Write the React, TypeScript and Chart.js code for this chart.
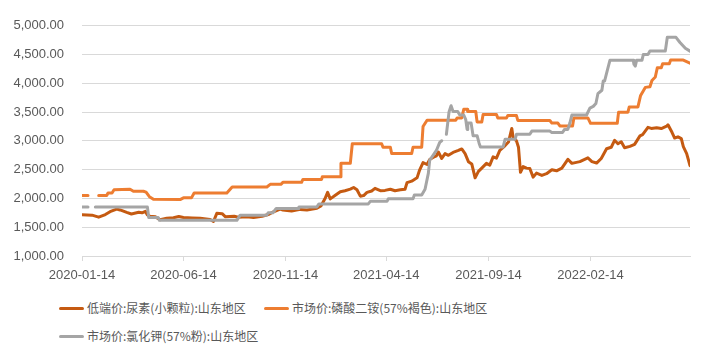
import React, { useEffect, useRef } from 'react';
import { Chart, registerables } from 'chart.js';

Chart.register(...registerables);

const START_DATE = '2020-01-14';
const END_DATE = '2022-07-13';
const TICK_LABELS = ['2020-01-14', '2020-06-14', '2020-11-14', '2021-04-14', '2021-09-14', '2022-02-14'];
const Y_MIN = 1000;
const Y_MAX = 5000;
const Y_STEP = 500;

const SERIES_NAMES = [
  '低端价:尿素(小颗粒):山东地区',
  '市场价:磷酸二铵(57%褐色):山东地区',
  '市场价:氯化钾(57%粉):山东地区',
];
const SERIES_COLORS = ['#C55A11', '#ED7D31', '#A5A5A5'];

const UREA_DATES = [
  '2020-01-14', '2020-01-29', '2020-02-08', '2020-02-18', '2020-02-25', '2020-03-06', '2020-03-11', '2020-03-21',
  '2020-03-28', '2020-04-08', '2020-04-13', '2020-04-18', '2020-04-21', '2020-04-25', '2020-05-03', '2020-05-10',
  '2020-05-20', '2020-05-30', '2020-06-07', '2020-06-14', '2020-06-27', '2020-07-09', '2020-07-24', '2020-07-29',
  '2020-08-03', '2020-08-11', '2020-08-16', '2020-08-29', '2020-09-04', '2020-09-17', '2020-09-27', '2020-10-10',
  '2020-10-19', '2020-10-27', '2020-11-06', '2020-11-10', '2020-11-23', '2020-12-06', '2020-12-16', '2020-12-31',
  '2021-01-06', '2021-01-12', '2021-01-16', '2021-01-20', '2021-01-27', '2021-02-04', '2021-02-11', '2021-02-19',
  '2021-02-24', '2021-03-01', '2021-03-06', '2021-03-11', '2021-03-16', '2021-03-23', '2021-03-28', '2021-04-05',
  '2021-04-12', '2021-04-20', '2021-04-27', '2021-05-05', '2021-05-12', '2021-05-15', '2021-05-22', '2021-05-30',
  '2021-06-03', '2021-06-08', '2021-06-14', '2021-06-18', '2021-06-23', '2021-06-28', '2021-07-01', '2021-07-06',
  '2021-07-11', '2021-07-16', '2021-07-23', '2021-07-31', '2021-08-05', '2021-08-10', '2021-08-15', '2021-08-20',
  '2021-08-25', '2021-08-30', '2021-09-04', '2021-09-11', '2021-09-16', '2021-09-21', '2021-09-26', '2021-10-01',
  '2021-10-09', '2021-10-14', '2021-10-19', '2021-10-21', '2021-10-26', '2021-10-29', '2021-11-01', '2021-11-05',
  '2021-11-10', '2021-11-15', '2021-11-20', '2021-11-25', '2021-12-03', '2021-12-10', '2021-12-18', '2021-12-25',
  '2022-01-02', '2022-01-11', '2022-01-17', '2022-01-29', '2022-02-10', '2022-02-16', '2022-02-23', '2022-03-02',
  '2022-03-10', '2022-03-17', '2022-03-22', '2022-03-27', '2022-04-01', '2022-04-06', '2022-04-14', '2022-04-21',
  '2022-04-29', '2022-05-03', '2022-05-11', '2022-05-16', '2022-05-24', '2022-05-31', '2022-06-08', '2022-06-10',
  '2022-06-16', '2022-06-20', '2022-06-25', '2022-06-30', '2022-07-03', '2022-07-08', '2022-07-13',
];
const UREA_VALUES = [
  1715, 1710, 1675, 1720, 1770, 1815, 1800, 1757,
  1730, 1760, 1750, 1775, 1713, 1690, 1680, 1629,
  1656, 1665, 1685, 1668, 1660, 1655, 1635, 1600,
  1741, 1735, 1680, 1690, 1672, 1680, 1670, 1690,
  1720, 1769, 1815, 1800, 1780, 1810, 1800, 1830,
  1870, 1993, 2105, 1993, 2050, 2117, 2134, 2161,
  2190, 2150, 2040, 2050, 2105, 2130, 2175, 2134,
  2140, 2160, 2134, 2150, 2160, 2274, 2300, 2358,
  2498, 2622, 2590, 2678, 2712, 2740, 2807, 2695,
  2779, 2750, 2800, 2834, 2860, 2779, 2639, 2600,
  2358, 2470, 2527, 2610, 2580, 2723, 2700, 2834,
  2919, 2980, 3217, 3059, 3000, 2890, 2454, 2555,
  2527, 2520, 2370, 2440, 2400, 2430, 2498, 2480,
  2527, 2680, 2610, 2640, 2705, 2640, 2615, 2695,
  2863, 2890, 3010, 2950, 2985, 2880, 2905, 2940,
  3087, 3110, 3235, 3217, 3230, 3215, 3255, 3280,
  3150, 3050, 3070, 3040, 2900, 2780, 2570,
];

const DAP_DATES = [
  '2020-01-14', '2020-01-23', '2020-01-29', '2020-02-08', '2020-02-20', '2020-02-22', '2020-02-28', '2020-03-02',
  '2020-03-26', '2020-03-31', '2020-04-15', '2020-04-19', '2020-04-24', '2020-04-30', '2020-06-09', '2020-06-14',
  '2020-06-26', '2020-06-30', '2020-08-18', '2020-08-20', '2020-08-26', '2020-10-17', '2020-10-22', '2020-11-07',
  '2020-11-10', '2020-12-08', '2020-12-10', '2021-01-07', '2021-01-08', '2021-02-04', '2021-02-05', '2021-02-19',
  '2021-02-22', '2021-04-07', '2021-04-09', '2021-04-20', '2021-04-22', '2021-05-22', '2021-05-24', '2021-06-06',
  '2021-06-08', '2021-06-14', '2021-07-27', '2021-07-29', '2021-08-05', '2021-08-08', '2021-08-13', '2021-08-14',
  '2021-08-26', '2021-08-28', '2021-09-04', '2021-09-06', '2021-09-26', '2021-09-28', '2021-10-11', '2021-10-13',
  '2021-10-26', '2021-10-28', '2021-12-15', '2021-12-18', '2021-12-27', '2021-12-30', '2022-01-18', '2022-01-20',
  '2022-02-10', '2022-02-14', '2022-03-26', '2022-03-28', '2022-04-11', '2022-04-13', '2022-04-26', '2022-04-30',
  '2022-05-07', '2022-05-14', '2022-05-17', '2022-05-22', '2022-05-25', '2022-05-31', '2022-06-02', '2022-06-12',
  '2022-06-14', '2022-07-03', '2022-07-13',
];
const DAP_VALUES = [
  2050, 2050, null, 2050, 2050, 2094, 2094, 2150,
  2160, 2125, 2125, 2110, 2030, 1985, 1980, 2010,
  2010, 2094, 2094, 2120, 2200, 2200, 2245, 2245,
  2280, 2280, 2330, 2330, 2375, 2375, 2610, 2610,
  2950, 2950, 2890, 2890, 2780, 2780, 2890, 2890,
  3250, 3360, 3360, 3400, 3400, 3550, 3550, 3510,
  3510, 3330, 3330, 3460, 3460, 3400, 3400, 3440,
  3440, 3355, 3355, 3310, 3310, 3260, 3260, 3400,
  3400, 3305, 3305, 3500, 3500, 3590, 3590, 3790,
  3930, 3940, 4050, 4110, 4270, 4270, 4340, 4340,
  4405, 4405, 4350,
];

const KCL_DATES = [
  '2020-01-14', '2020-01-23', '2020-01-29', '2020-02-03', '2020-04-21', '2020-04-23', '2020-05-07', '2020-05-09',
  '2020-09-02', '2020-09-07', '2020-10-17', '2020-10-19', '2020-10-26', '2020-10-31', '2020-12-03', '2020-12-04',
  '2020-12-31', '2021-01-03', '2021-03-18', '2021-03-21', '2021-04-15', '2021-04-17', '2021-05-24', '2021-05-26',
  '2021-06-06', '2021-06-11', '2021-06-16', '2021-06-18', '2021-06-23', '2021-06-28', '2021-07-03', '2021-07-06',
  '2021-07-09', '2021-07-13', '2021-07-17', '2021-07-20', '2021-07-23', '2021-07-30', '2021-08-02', '2021-08-08',
  '2021-08-11', '2021-08-13', '2021-08-14', '2021-08-19', '2021-08-22', '2021-08-28', '2021-08-31', '2021-09-02',
  '2021-10-06', '2021-10-09', '2021-10-24', '2021-10-26', '2021-11-15', '2021-11-18', '2021-12-15', '2021-12-18',
  '2022-01-03', '2022-01-06', '2022-01-11', '2022-01-14', '2022-01-17', '2022-02-08', '2022-02-13', '2022-02-18',
  '2022-02-22', '2022-02-25', '2022-03-03', '2022-03-05', '2022-03-07', '2022-03-11', '2022-03-15', '2022-04-19',
  '2022-04-20', '2022-04-22', '2022-04-24', '2022-05-02', '2022-05-04', '2022-05-11', '2022-05-14', '2022-06-06',
  '2022-06-09', '2022-06-22', '2022-06-28', '2022-07-06', '2022-07-13',
];
const KCL_VALUES = [
  1850, 1850, null, 1850, 1850, 1670, 1670, 1620,
  1620, 1710, 1710, 1752, 1752, 1825, 1825, 1853,
  1853, 1905, 1905, 1950, 1950, 1995, 1995, 2060,
  2060, 2160, 2440, 2667, 2750, 2834, 2975, 3003,
  null, 3115, 3508, 3610, 3510, 3510, 3450, 3450,
  3370, 3200, 3310, 3310, 3090, 3090, 2960, 2895,
  2895, 3030, 3030, 3115, 3115, 3170, 3170, 3145,
  3145, 3200, 3200, 3310, 3450, 3450, 3570, 3600,
  3650, 3820, 3880, 4040, 4040, 4220, 4400, 4400,
  4330, 4300, 4400, 4400, 4500, 4500, 4560, 4560,
  4800, 4800, 4710, 4610, 4560,
];

const dayOf = (d: string) => Math.round((Date.parse(d) - Date.parse(START_DATE)) / 86400000);
const toPoints = (dates: string[], values: (number | null)[]) =>
  dates.map((d, i) => ({ x: dayOf(d), y: values[i] }));

const TEXT_COLOR = '#595959';
const GRID_COLOR = '#D9D9D9';
const AXIS_FONT = { family: '"Liberation Sans", Arial, sans-serif', size: 13 };

export default function App() {
  const canvasRef = useRef<HTMLCanvasElement | null>(null);

  useEffect(() => {
    const canvas = canvasRef.current;
    if (!canvas) return;
    const chart = new Chart(canvas, {
      type: 'line',
      data: {
        datasets: [
          {
            label: SERIES_NAMES[0],
            data: toPoints(UREA_DATES, UREA_VALUES),
            borderColor: SERIES_COLORS[0],
            backgroundColor: SERIES_COLORS[0],
            borderWidth: 3,
            order: 2,
          },
          {
            label: SERIES_NAMES[1],
            data: toPoints(DAP_DATES, DAP_VALUES),
            borderColor: SERIES_COLORS[1],
            backgroundColor: SERIES_COLORS[1],
            borderWidth: 3,
            order: 1,
          },
          {
            label: SERIES_NAMES[2],
            data: toPoints(KCL_DATES, KCL_VALUES),
            borderColor: SERIES_COLORS[2],
            backgroundColor: SERIES_COLORS[2],
            borderWidth: 3,
            order: 0,
          },
        ],
      },
      options: {
        animation: false,
        responsive: false,
        maintainAspectRatio: false,
        spanGaps: false,
        layout: { padding: { top: 18, right: 19, left: 0, bottom: 0 } },
        plugins: { legend: { display: false }, tooltip: { enabled: false } },
        elements: {
          point: { radius: 0, hoverRadius: 0 },
          line: { tension: 0, borderCapStyle: 'round', borderJoinStyle: 'round' },
        },
        scales: {
          x: {
            type: 'linear',
            min: 0,
            max: dayOf(END_DATE),
            afterBuildTicks: (scale: any) => {
              scale.ticks = TICK_LABELS.map((t) => ({ value: dayOf(t) }));
            },
            afterFit: (scale: any) => {
              scale.height = 34;
            },
            grid: {
              display: true,
              drawOnChartArea: false,
              drawTicks: true,
              tickLength: 5,
              color: GRID_COLOR,
            },
            border: { display: true, color: GRID_COLOR, width: 1 },
            ticks: {
              autoSkip: false,
              maxRotation: 0,
              minRotation: 0,
              padding: 7,
              color: TEXT_COLOR,
              font: AXIS_FONT,
              callback: (_v: any, i: number) => TICK_LABELS[i],
            },
          },
          y: {
            min: Y_MIN,
            max: Y_MAX,
            afterFit: (scale: any) => {
              scale.width = 82;
            },
            grid: { color: GRID_COLOR, drawTicks: false, lineWidth: 1 },
            border: { display: false },
            ticks: {
              stepSize: Y_STEP,
              padding: 18,
              color: TEXT_COLOR,
              font: AXIS_FONT,
              callback: (v: any) =>
                Number(v).toLocaleString('en-US', { minimumFractionDigits: 2, maximumFractionDigits: 2 }),
            },
          },
        },
      },
    } as any);
    return () => chart.destroy();
  }, []);

  const legendItems = [
    { name: SERIES_NAMES[0], color: SERIES_COLORS[0], left: 59, top: 308 },
    { name: SERIES_NAMES[1], color: SERIES_COLORS[1], left: 264, top: 308 },
    { name: SERIES_NAMES[2], color: SERIES_COLORS[2], left: 59, top: 336 },
  ];

  return (
    <div style={{ position: 'fixed', left: 0, top: 0, width: 709, height: 359, background: '#fff', overflow: 'hidden' }}>
      <canvas ref={canvasRef} width={709} height={290} style={{ display: 'block', width: 709, height: 290 }} />
      {legendItems.map((it) => (
        <div
          key={it.name}
          style={{
            position: 'absolute',
            left: it.left,
            top: it.top - 10,
            height: 20,
            display: 'flex',
            alignItems: 'center',
            whiteSpace: 'nowrap',
          }}
        >
          <div style={{ width: 25, height: 3, borderRadius: 2, background: it.color, marginRight: 3 }} />
          <span
            style={{
              fontFamily: '"Noto Sans CJK SC", "Noto Sans", sans-serif',
              fontSize: 12,
              color: TEXT_COLOR,
              lineHeight: '20px',
            }}
          >
            {it.name}
          </span>
        </div>
      ))}
    </div>
  );
}
